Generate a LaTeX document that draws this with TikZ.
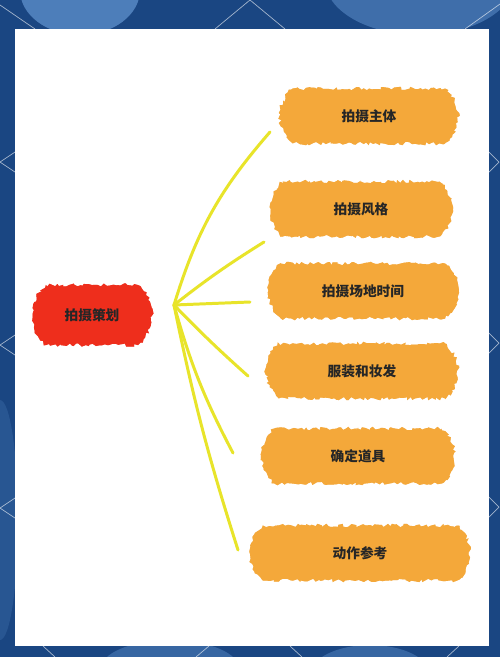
\documentclass[tikz,border=0pt]{standalone}
\usepackage{fontspec}
\newfontfamily\cjk{Noto Sans CJK SC}
\usetikzlibrary{decorations.pathmorphing,shapes.misc}

\definecolor{bgblue}{RGB}{26,70,130}
\definecolor{paleblue}{RGB}{100,150,210}
\definecolor{planred}{RGB}{238,46,28}
\definecolor{planorange}{RGB}{244,168,58}
\definecolor{linkyellow}{RGB}{232,228,42}

\begin{document}
\begin{tikzpicture}[x=0.02cm, y=-0.02cm,
  topic/.style 2 args={shape=rounded rectangle, rounded rectangle arc length=100,
    minimum width=#1, minimum height=#2, inner sep=0pt,
    font=\cjk\bfseries\fontsize{7.8}{9}\selectfont, text=black!85,
    decorate, decoration={random steps, segment length=1.5pt, amplitude=1pt}},
  maintopic/.style={topic={2.4cm}{1.2cm}, fill=planred,
    preaction={fill=planred!60, decorate,
      decoration={random steps, segment length=3pt, amplitude=2.5pt}}},
  subtopic/.style={topic={#1}{1.1cm}, fill=planorange,
    preaction={fill=planorange!60, decorate,
      decoration={random steps, segment length=3pt, amplitude=2.5pt}}},
  link/.style={draw=linkyellow, line width=1.7pt, line cap=round},
  grid line/.style={draw=white, opacity=0.6, line width=0.4pt}]

%background
\useasboundingbox (0,0) rectangle (500,657);
\fill[bgblue] (0,0) rectangle (500,657);
\begin{scope}
\clip (0,0) rectangle (500,657);
\fill[paleblue, opacity=0.7] (80,-10) ellipse (60 and 45);
\fill[paleblue, opacity=0.5] (420,-20) ellipse (95 and 55);
\fill[paleblue, opacity=0.4] (170,670) ellipse (70 and 30);
\fill[paleblue, opacity=0.4] (370,675) ellipse (60 and 30);
\fill[paleblue, opacity=0.2] (0,520) ellipse (18 and 120);
\end{scope}
\draw[grid line] (0,5) -- (35,29);
\draw[grid line] (215,29) -- (250,0) -- (285,29);
\draw[grid line] (465,29) -- (500,4);
\draw[grid line] (15,152) -- (0,162) -- (15,172);
\draw[grid line] (15,335) -- (0,345) -- (15,355);
\draw[grid line] (15,498) -- (0,508) -- (15,518);
\draw[grid line] (489,152) -- (499,162) -- (489,172);
\draw[grid line] (489,333) -- (499,343) -- (489,353);
\draw[grid line] (489,497) -- (499,507) -- (489,517);
\draw[grid line] (43,646) -- (55,657);
\draw[grid line] (196,657) -- (209,646);
\draw[grid line] (290,646) -- (302,657);
\draw[grid line] (447,657) -- (459,646);
\fill[white] (15,29) rectangle (489,646);

%nodes
\node (plan)  [maintopic]          at (92,315)  {拍摄策划};
\node (subject) [subtopic=3.56cm]  at (369,116) {拍摄主体};
\node (style)   [subtopic=3.64cm]  at (361,209) {拍摄风格};
\node (place)   [subtopic=3.8cm]   at (363,291) {拍摄场地时间};
\node (makeup)  [subtopic=3.84cm]  at (362,371) {服装和妆发};
\node (props)   [subtopic=3.86cm]  at (358,456) {确定道具};
\node (action)  [subtopic=4.4cm]   at (360,553) {动作参考};

\coordinate (hub) at (174,305);
\coordinate (subject end) at (270,132);
\coordinate (style end)   at (264,242);
\coordinate (place end)   at (250,302);
\coordinate (makeup end)  at (248,376);
\coordinate (props end)   at (233,453);
\coordinate (action end)  at (238,550);

%links
\draw[link] (hub) to[bend left=12] (subject end);
\draw[link] (hub) to[bend left=3] (style end);
\draw[link] (hub) to (place end);
\draw[link] (hub) to[bend right=2] (makeup end);
\draw[link] (hub) to[bend right=6] (props end);
\draw[link] (hub) to[bend right=3] (action end);
\end{tikzpicture}
\end{document}
